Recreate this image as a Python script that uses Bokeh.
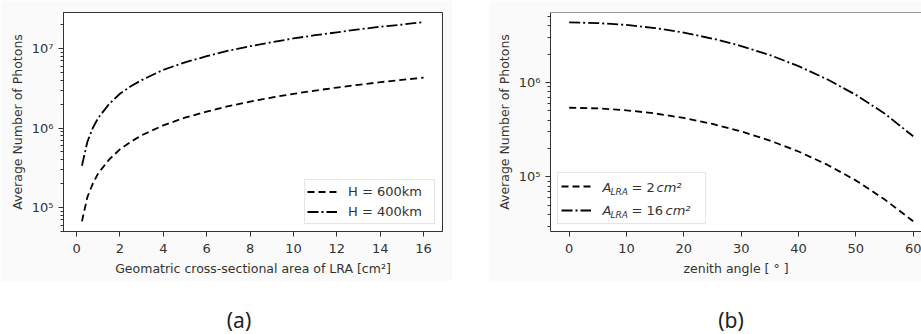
from bokeh.plotting import figure
from bokeh.models import (Range1d, FixedTicker, CustomJSTickFormatter, Legend, LegendItem,
                          Label, Span, Spacer, Div)
from bokeh.layouts import row, column
from bokeh.embed import file_html
from bokeh.resources import INLINE

# ---------------- data: panel (a) ----------------
area_cm2 = [0.25, 0.5, 0.75, 1, 1.5, 2, 2.5, 3, 4, 5, 6, 7, 8, 9, 10, 11, 12, 13, 14, 15, 16]
photons_h600 = [6.7e4, 1.35e5, 2.0e5, 2.7e5, 4.0e5, 5.4e5, 6.7e5, 8.1e5, 1.08e6, 1.35e6, 1.61e6,
                1.88e6, 2.15e6, 2.42e6, 2.69e6, 2.96e6, 3.23e6, 3.5e6, 3.77e6, 4.04e6, 4.3e6]
photons_h400 = [3.35e5, 6.7e5, 1.0e6, 1.34e6, 2.0e6, 2.7e6, 3.35e6, 4.0e6, 5.4e6, 6.7e6, 8.0e6,
                9.4e6, 1.07e7, 1.2e7, 1.34e7, 1.47e7, 1.6e7, 1.74e7, 1.88e7, 2.0e7, 2.15e7]
a_xticks = [0, 2, 4, 6, 8, 10, 12, 14, 16]
a_labels = ["H = 600km", "H = 400km"]

# ---------------- data: panel (b) ----------------
zenith_deg = [0, 5, 10, 15, 20, 25, 30, 35, 40, 45, 50, 55, 60]
photons_a2 = [5.4e5, 5.32e5, 5.08e5, 4.7e5, 4.21e5, 3.64e5, 3.04e5, 2.43e5, 1.86e5, 1.35e5,
              9.2e4, 5.8e4, 3.4e4]
photons_a16 = [4.32e6, 4.25e6, 4.06e6, 3.76e6, 3.37e6, 2.91e6, 2.43e6, 1.95e6, 1.49e6, 1.08e6,
               7.4e5, 4.7e5, 2.7e5]
b_xticks = [0, 10, 20, 30, 40, 50, 60]
b_label_values = ["= 2", "= 16"]

y_major = [1e5, 1e6, 1e7]
y_minor = [m * 10 ** e for e in range(4, 8) for m in range(2, 10)]

TXT = "#333333"
FONT = "DejaVu Sans"
DASH = "7 4"
DASHDOT = "11 3 2 3"

sup_fmt = CustomJSTickFormatter(code="""
const e = Math.round(Math.log10(tick));
const sup = {"0":"\u2070","1":"\u00b9","2":"\u00b2","3":"\u00b3","4":"\u2074","5":"\u2075",
             "6":"\u2076","7":"\u2077","8":"\u2078","9":"\u2079","-":"\u207b"};
return "10" + String(e).split("").map(c => sup[c]).join("");
""")


def style(p):
    p.grid.visible = False
    p.border_fill_color = "#fafafa"
    p.background_fill_color = "white"
    p.outline_line_color = TXT
    p.outline_line_width = 1
    for ax in p.axis:
        ax.axis_line_color = TXT
        ax.major_tick_line_color = TXT
        ax.minor_tick_line_color = TXT
        ax.major_tick_in = 0
        ax.major_tick_out = 5
        ax.minor_tick_in = 0
        ax.minor_tick_out = 3
        ax.major_label_text_font = FONT
        ax.major_label_text_font_size = "13px"
        ax.major_label_text_color = TXT
        ax.axis_label_text_font = FONT
        ax.axis_label_text_font_size = "12.5px"
        ax.axis_label_text_font_style = "normal"
        ax.axis_label_text_color = TXT
    p.xaxis.major_label_standoff = 7
    p.xaxis.axis_label_standoff = 5
    p.yaxis.major_label_standoff = 5
    p.yaxis.axis_label_standoff = 4
    p.xaxis.minor_tick_line_color = None
    p.yaxis.ticker = FixedTicker(ticks=y_major, minor_ticks=y_minor)
    p.yaxis.formatter = sup_fmt


# ---------------- panel (a) ----------------
pa = figure(width=452, height=281, y_axis_type="log",
            x_range=Range1d(-0.6, 16.87), y_range=Range1d(4.99e4, 2.84e7),
            output_backend="svg", toolbar_location=None,
            min_border_left=63, min_border_right=10, min_border_top=12, min_border_bottom=50)
ra1 = pa.line(area_cm2, photons_h600, line_color="black", line_width=1.8, line_dash=DASH)
ra2 = pa.line(area_cm2, photons_h400, line_color="black", line_width=1.8, line_dash=DASHDOT)
pa.xaxis.axis_label = "Geomatric cross-sectional area of LRA [cm\u00b2]"
pa.yaxis.axis_label = "Average Number of Photons"
style(pa)
pa.xaxis.ticker = FixedTicker(ticks=a_xticks)
leg_a = Legend(items=[LegendItem(label=a_labels[0], renderers=[ra1]),
                      LegendItem(label=a_labels[1], renderers=[ra2])],
               location="bottom_right", margin=7, padding=2, spacing=1,
               label_height=19, glyph_height=19, glyph_width=30, label_standoff=11,
               label_width=84, border_line_color="#cccccc", background_fill_alpha=0.8,
               label_text_font=FONT, label_text_font_size="13px", label_text_color=TXT)
pa.add_layout(leg_a)

# ---------------- panel (b) ----------------
pb = figure(width=432, height=281, y_axis_type="log",
            x_range=Range1d(-3.26, 61.45), y_range=Range1d(2.65e4, 5.5e6),
            output_backend="svg", toolbar_location=None,
            min_border_left=61, min_border_right=0, min_border_top=12, min_border_bottom=49)
rb1 = pb.line(zenith_deg, photons_a2, line_color="black", line_width=1.8, line_dash=DASH)
rb2 = pb.line(zenith_deg, photons_a16, line_color="black", line_width=1.8, line_dash=DASHDOT)
pb.xaxis.axis_label = "zenith angle [ \u00b0 ]"
pb.yaxis.axis_label = "Average Number of Photons"
style(pb)
pb.outline_line_color = None
pb.add_layout(Span(location=5.5e6, dimension="width", line_color=TXT, line_width=1))
pb.xaxis.ticker = FixedTicker(ticks=b_xticks)
leg_b = Legend(items=[LegendItem(label=" ", renderers=[rb1]),
                      LegendItem(label=" ", renderers=[rb2])],
               location="bottom_left", margin=7, padding=3, spacing=4,
               label_height=20, glyph_height=20, glyph_width=30, label_standoff=10,
               label_width=101, border_line_color="#cccccc", background_fill_alpha=0.0,
               label_text_font=FONT, label_text_font_size="13px", label_text_color=TXT)
pb.add_layout(leg_b)

# composed legend texts (screen units relative to the plot frame)
row_y = [44, 21]
cm_x = [106, 115]
for yy, val, cx in zip(row_y, b_label_values, cm_x):
    pb.add_layout(Label(x=52, y=yy, x_units="screen", y_units="screen", text="A",
                        text_font=FONT, text_font_style="italic", text_font_size="13px",
                        text_color=TXT, text_baseline="middle", level="overlay"))
    pb.add_layout(Label(x=60, y=yy - 4, x_units="screen", y_units="screen", text="LRA",
                        text_font=FONT, text_font_style="italic", text_font_size="9px",
                        text_color=TXT, text_baseline="middle", level="overlay"))
    pb.add_layout(Label(x=81, y=yy, x_units="screen", y_units="screen", text=val,
                        text_font=FONT, text_font_size="13px",
                        text_color=TXT, text_baseline="middle", level="overlay"))
    pb.add_layout(Label(x=cx, y=yy, x_units="screen", y_units="screen",
                        text="cm\u00b2", text_font=FONT, text_font_style="italic",
                        text_font_size="13px", text_color=TXT, text_baseline="middle",
                        level="overlay"))

cap = Div(text=('<div style="position:relative;width:921px;height:52px;font-family:\'Noto Sans\';'
                'font-size:21px;color:#222;line-height:24px;">'
                '<span style="position:absolute;left:239px;top:27px;transform:translateX(-50%);">(a)</span>'
                '<span style="position:absolute;left:731px;top:27px;transform:translateX(-50%);">(b)</span>'
                '</div>'),
          width=921, height=52, margin=0)

layout = column(row(pa, Spacer(width=37, height=281), pb), cap)

with open("out.html", "w") as f:
    f.write(file_html(layout, INLINE))
